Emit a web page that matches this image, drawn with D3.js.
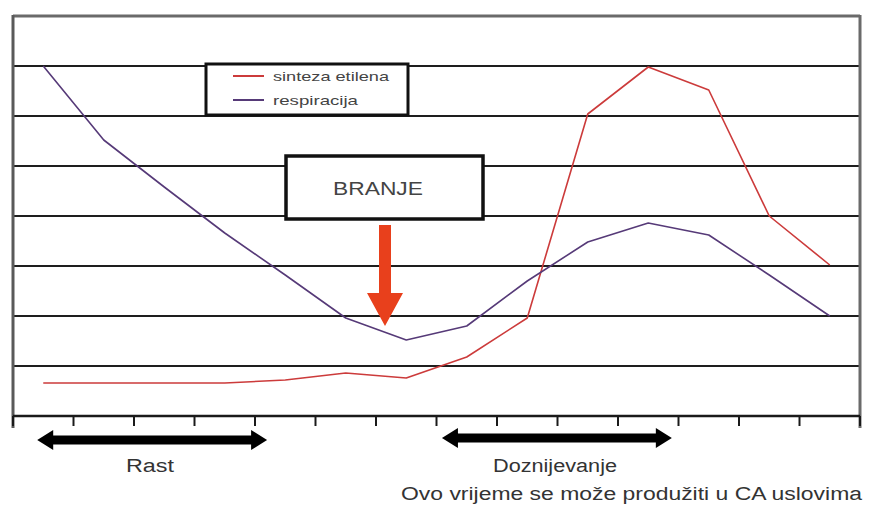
<!DOCTYPE html>
<html>
<head>
<meta charset="utf-8">
<script src="https://cdn.jsdelivr.net/npm/d3@7"></script>
<style>
  html, body { margin: 0; padding: 0; background: #fff; }
  svg { display: block; font-family: "Liberation Sans", Arial, sans-serif; }
</style>
</head>
<body>
<svg id="chart" width="869" height="507"></svg>
<script>
// ---- data ----
const periods = ["1","2","3","4","5","6","7","8","9","10","11","12","13","14"];
const ethylene = [0.66, 0.66, 0.66, 0.66, 0.72, 0.86, 0.76, 1.18, 1.96, 6.04, 6.98, 6.52, 4.0, 3.02];
const respiration = [7.0, 5.52, 4.58, 3.66, 2.82, 1.96, 1.52, 1.8, 2.7, 3.48, 3.86, 3.62, 2.82, 2.0];
const yTicks = [1, 2, 3, 4, 5, 6, 7];
const seriesNames = ["sinteza etilena", "respiracija"];
const seriesColors = ["#cc3b3b", "#563a78"];
const harvestLabel = "BRANJE";
const phases = [
  { label: "Rast", span: [0.4, 4.2] },
  { label: "Doznijevanje", span: [7.09, 10.89] }
];
const footnote = "Ovo vrijeme se može produžiti u CA uslovima";

// ---- layout ----
const svg = d3.select("#chart");
const L = 13, R = 860, T = 16, B = 416;

const x = d3.scaleBand().domain(periods).range([L, R]).padding(0);
const xc = d => x(d) + x.bandwidth() / 2;
const xu = u => L + u * x.step();      // position in band units
const y = d3.scaleLinear().domain([0, 8]).range([B, T]);

const g = svg.append("g");

// gridlines
g.selectAll("line.grid").data(yTicks).join("line")
  .attr("x1", L).attr("x2", R)
  .attr("y1", d => y(d)).attr("y2", d => y(d))
  .attr("stroke", "#1e1e1e").attr("stroke-width", 2.2);

// frame: top, left, right (gray)
g.append("line").attr("x1", L).attr("x2", R).attr("y1", y(8)).attr("y2", y(8))
  .attr("stroke", "#6a6a6a").attr("stroke-width", 3);
g.append("line").attr("x1", L).attr("x2", L).attr("y1", y(8) - 1).attr("y2", B + 12)
  .attr("stroke", "#5a5a5a").attr("stroke-width", 3);
g.append("line").attr("x1", R).attr("x2", R).attr("y1", y(8) - 1).attr("y2", B + 12)
  .attr("stroke", "#6a6a6a").attr("stroke-width", 3);

// x axis with ticks at band boundaries
const bounds = d3.range(periods.length + 1);
g.append("line").attr("x1", L).attr("x2", R).attr("y1", B).attr("y2", B)
  .attr("stroke", "#1a1a1a").attr("stroke-width", 2.5);
g.selectAll("line.tick").data(bounds).join("line")
  .attr("x1", d => xu(d)).attr("x2", d => xu(d))
  .attr("y1", B).attr("y2", B + 10)
  .attr("stroke", "#1a1a1a").attr("stroke-width", 2);

// series lines
const line = d3.line().x((d, i) => xc(periods[i])).y(d => y(d));
[ethylene, respiration].forEach((s, k) => {
  g.append("path").datum(s)
    .attr("d", line)
    .attr("fill", "none")
    .attr("stroke", seriesColors[k])
    .attr("stroke-width", 1.6)
    .attr("stroke-linejoin", "round");
});

// legend box
const lg = svg.append("g");
lg.append("rect").attr("x", 206).attr("y", 64).attr("width", 202).attr("height", 51)
  .attr("fill", "#fff").attr("stroke", "#111").attr("stroke-width", 3);
seriesNames.forEach((n, i) => {
  const yy = 76 + i * 24;
  lg.append("line").attr("x1", 233).attr("x2", 264).attr("y1", yy).attr("y2", yy)
    .attr("stroke", seriesColors[i]).attr("stroke-width", 2);
  lg.append("text").attr("x", 273).attr("y", yy + 4.5)
    .attr("font-size", 13).attr("fill", "#444")
    .attr("textLength", i === 0 ? 116 : 85).attr("lengthAdjust", "spacingAndGlyphs")
    .text(n);
});

// harvest box + arrow
const hb = svg.append("g");
hb.append("rect").attr("x", 286).attr("y", 156).attr("width", 197).attr("height", 63)
  .attr("fill", "#fff").attr("stroke", "#111").attr("stroke-width", 3.5);
hb.append("text").attr("x", 378).attr("y", 195).attr("text-anchor", "middle")
  .attr("font-size", 19).attr("fill", "#444")
  .attr("textLength", 90).attr("lengthAdjust", "spacingAndGlyphs")
  .text(harvestLabel);
const ax = 385;
hb.append("path")
  .attr("d", `M${ax - 6},225 L${ax + 6},225 L${ax + 6},293 L${ax + 18},293 L${ax},326 L${ax - 18},293 L${ax - 6},293 Z`)
  .attr("fill", "#e8401c");

// phase double arrows
const pg = svg.append("g");
function dblArrow(x1, x2, yy) {
  const h = 4.5, H = 10, hl = 16;
  return `M${x1},${yy} L${x1 + hl},${yy - H} L${x1 + hl},${yy - h} L${x2 - hl},${yy - h} L${x2 - hl},${yy - H} L${x2},${yy} L${x2 - hl},${yy + H} L${x2 - hl},${yy + h} L${x1 + hl},${yy + h} L${x1 + hl},${yy + H} Z`;
}
pg.selectAll("path").data(phases).join("path")
  .attr("d", (d, i) => dblArrow(xu(d.span[0]), xu(d.span[1]), i === 0 ? 440 : 438))
  .attr("fill", "#000");
pg.selectAll("text").data(phases).join("text")
  .attr("x", (d, i) => i === 0 ? 150 : 555)
  .attr("y", 472)
  .attr("text-anchor", "middle")
  .attr("font-size", 18).attr("fill", "#333")
  .attr("textLength", (d, i) => i === 0 ? 48 : 124).attr("lengthAdjust", "spacingAndGlyphs")
  .text(d => d.label);
svg.append("text").attr("x", 401).attr("y", 500)
  .attr("font-size", 18).attr("fill", "#333")
  .attr("textLength", 461).attr("lengthAdjust", "spacingAndGlyphs")
  .text(footnote);
</script>
</body>
</html>
